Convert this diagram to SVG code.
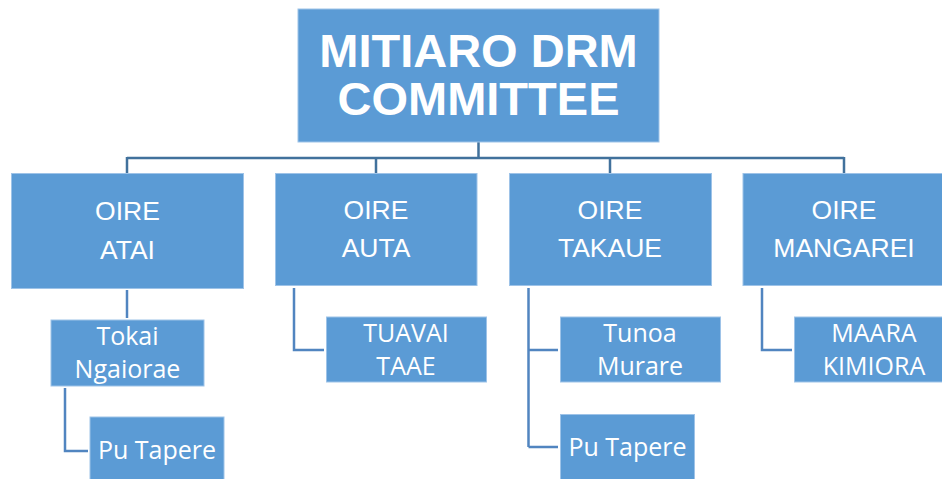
<svg xmlns="http://www.w3.org/2000/svg" width="942" height="479" viewBox="0 0 942 479">
<style>
.box{fill:#5B9BD5;stroke:#9EC3E8;stroke-width:1}
.t1{font-family:"Liberation Sans",Arial,sans-serif;font-weight:bold;font-size:47px;fill:#fff;text-anchor:middle}
.t2{font-family:"Liberation Sans",Arial,sans-serif;font-size:26.5px;fill:#fff;text-anchor:middle}
.t3{font-family:"Open Sans",sans-serif;font-size:25px;fill:#fff;text-anchor:middle}
.c1{fill:none;stroke:#41719C;stroke-width:2.5}
.c2{fill:none;stroke:#5185C0;stroke-width:2.5}
</style>
<g id="connectors">
<path class="c1" d="M478.5 142V158M127 158H844M127 157V173M376 157V173M610 157V173M844 157V173"/>
<path class="c2" d="M127 290V318"/>
<path class="c2" d="M65 388V451H88"/>
<path class="c2" d="M294 288V350H324"/>
<path class="c2" d="M528.5 288V447M528.5 350H558M528.5 447H558"/>
<path class="c2" d="M762 288V350H792"/>
</g>
<g id="n-root"><rect class="box" x="298" y="9" width="361" height="133"/>
<text class="t1" x="478.5" y="66.5">MITIARO DRM</text><text class="t1" x="478.5" y="115">COMMITTEE</text></g>
<g id="n-atai"><rect class="box" x="11.5" y="173.5" width="232" height="115"/>
<text class="t2" x="127.5" y="220">OIRE</text><text class="t2" x="127.5" y="259">ATAI</text></g>
<g id="n-auta"><rect class="box" x="275.5" y="173.5" width="201.5" height="112"/>
<text class="t2" x="376" y="219">OIRE</text><text class="t2" x="376" y="257">AUTA</text></g>
<g id="n-takaue"><rect class="box" x="509.5" y="173.5" width="202" height="112"/>
<text class="t2" x="610" y="219">OIRE</text><text class="t2" x="610" y="257">TAKAUE</text></g>
<g id="n-mangarei"><rect class="box" x="743" y="173.5" width="200" height="112"/>
<text class="t2" x="844" y="219">OIRE</text><text class="t2" x="844" y="257">MANGAREI</text></g>
<g id="n-tokai"><rect class="box" x="51" y="320" width="153" height="66"/>
<text class="t3" x="127.5" y="345">Tokai</text><text class="t3" x="127.5" y="378">Ngaiorae</text></g>
<g id="n-putapere1"><rect class="box" x="90" y="417" width="134" height="63"/>
<text class="t3" x="157" y="459">Pu Tapere</text></g>
<g id="n-tuavai"><rect class="box" x="326.5" y="317" width="160" height="65"/>
<text class="t3" x="406" y="342">TUAVAI</text><text class="t3" x="406" y="375">TAAE</text></g>
<g id="n-tunoa"><rect class="box" x="560.5" y="317" width="160" height="65"/>
<text class="t3" x="640" y="342">Tunoa</text><text class="t3" x="640" y="375">Murare</text></g>
<g id="n-putapere2"><rect class="box" x="560.5" y="414.5" width="134" height="65"/>
<text class="t3" x="627.5" y="455.5">Pu Tapere</text></g>
<g id="n-maara"><rect class="box" x="794.5" y="317" width="148" height="65"/>
<text class="t3" x="874" y="342">MAARA</text><text class="t3" x="874" y="375">KIMIORA</text></g>
</svg>
